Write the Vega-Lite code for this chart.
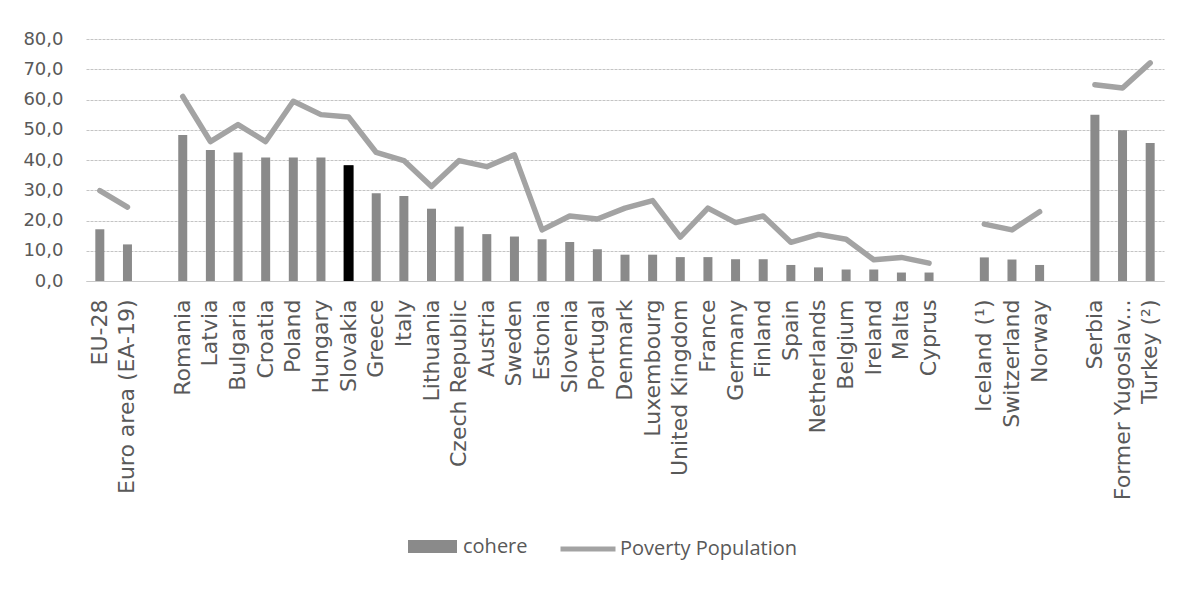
{
  "$schema": "https://vega.github.io/schema/vega-lite/v6.json",
  "width": 1078,
  "height": 242,
  "autosize": {"type": "none"},
  "padding": {"left": 86, "top": 39, "right": 25, "bottom": 311},
  "background": "white",
  "config": {
    "view": {"stroke": null},
    "axis": {"labelColor": "#595959", "labelFont": "DejaVu Sans"},
    "axisY": {
      "values": [0, 10, 20, 30, 40, 50, 60, 70, 80],
      "labelExpr": "replace(format(datum.value, '.1f'), '.', ',')",
      "labelFontSize": 18,
      "labelPadding": 23,
      "labelOverlap": false,
      "ticks": false,
      "domain": false,
      "gridColor": "#c4c4c4",
      "gridDash": [3, 1],
      "gridWidth": 1
    },
    "legend": {"labelColor": "#595959", "labelFont": "Open Sans", "labelFontSize": 20, "padding": 0, "labelLimit": 400}
  },
  "data": {
    "values": [
      {"country": "EU-28", "cohere": 17.1, "poverty": 29.9},
      {"country": "Euro area (EA-19)", "cohere": 12.1, "poverty": 24.4},
      {"country": "gap1", "cohere": null, "poverty": null},
      {"country": "Romania", "cohere": 48.3, "poverty": 61.0},
      {"country": "Latvia", "cohere": 43.3, "poverty": 46.1},
      {"country": "Bulgaria", "cohere": 42.5, "poverty": 51.7},
      {"country": "Croatia", "cohere": 40.8, "poverty": 46.1},
      {"country": "Poland", "cohere": 40.8, "poverty": 59.4},
      {"country": "Hungary", "cohere": 40.8, "poverty": 55.0},
      {"country": "Slovakia", "cohere": 38.3, "poverty": 54.2},
      {"country": "Greece", "cohere": 29.0, "poverty": 42.5},
      {"country": "Italy", "cohere": 28.1, "poverty": 39.8},
      {"country": "Lithuania", "cohere": 23.9, "poverty": 31.2},
      {"country": "Czech Republic", "cohere": 18.0, "poverty": 39.8},
      {"country": "Austria", "cohere": 15.5, "poverty": 37.8},
      {"country": "Sweden", "cohere": 14.7, "poverty": 41.7},
      {"country": "Estonia", "cohere": 13.8, "poverty": 16.9},
      {"country": "Slovenia", "cohere": 12.9, "poverty": 21.5},
      {"country": "Portugal", "cohere": 10.5, "poverty": 20.5},
      {"country": "Denmark", "cohere": 8.7, "poverty": 24.1},
      {"country": "Luxembourg", "cohere": 8.7, "poverty": 26.6},
      {"country": "United Kingdom", "cohere": 7.9, "poverty": 14.5},
      {"country": "France", "cohere": 7.9, "poverty": 24.1},
      {"country": "Germany", "cohere": 7.2, "poverty": 19.3},
      {"country": "Finland", "cohere": 7.2, "poverty": 21.5},
      {"country": "Spain", "cohere": 5.3, "poverty": 12.8},
      {"country": "Netherlands", "cohere": 4.5, "poverty": 15.4},
      {"country": "Belgium", "cohere": 3.8, "poverty": 13.8},
      {"country": "Ireland", "cohere": 3.8, "poverty": 7.0},
      {"country": "Malta", "cohere": 2.8, "poverty": 7.8},
      {"country": "Cyprus", "cohere": 2.8, "poverty": 5.9},
      {"country": "gap2", "cohere": null, "poverty": null},
      {"country": "Iceland (¹)", "cohere": 7.8, "poverty": 18.8},
      {"country": "Switzerland", "cohere": 7.1, "poverty": 16.9},
      {"country": "Norway", "cohere": 5.3, "poverty": 22.9},
      {"country": "gap3", "cohere": null, "poverty": null},
      {"country": "Serbia", "cohere": 55.0, "poverty": 64.9},
      {"country": "Former Yugoslav Republic of Macedonia", "cohere": 49.8, "poverty": 63.8},
      {"country": "Turkey (²)", "cohere": 45.6, "poverty": 72.1}
    ]
  },
  "encoding": {
    "x": {
      "field": "country",
      "type": "nominal",
      "sort": null,
      "scale": {
        "domain": ["EU-28", "Euro area (EA-19)", "gap1", "Romania", "Latvia", "Bulgaria", "Croatia", "Poland", "Hungary", "Slovakia", "Greece", "Italy", "Lithuania", "Czech Republic", "Austria", "Sweden", "Estonia", "Slovenia", "Portugal", "Denmark", "Luxembourg", "United Kingdom", "France", "Germany", "Finland", "Spain", "Netherlands", "Belgium", "Ireland", "Malta", "Cyprus", "gap2", "Iceland (¹)", "Switzerland", "Norway", "gap3", "Serbia", "Former Yugoslav Republic of Macedonia", "Turkey (²)"],
        "paddingInner": 0,
        "paddingOuter": 0
      },
      "axis": {
        "title": null,
        "labelAngle": -90,
        "labelAlign": "right",
        "labelBaseline": "middle",
        "labelFontSize": 22,
        "labelPadding": 18,
        "labelOverlap": false,
        "labelLimit": 400,
        "ticks": false,
        "domainColor": "#c8c8c8",
        "domainWidth": 1,
        "labelExpr": "datum.value == 'Former Yugoslav Republic of Macedonia' ? 'Former Yugoslav...' : (indexof(datum.value, 'gap') == 0 ? '' : datum.value)"
      }
    }
  },
  "layer": [
    {
      "mark": {"type": "bar", "size": 9},
      "encoding": {
        "y": {
          "field": "cohere",
          "type": "quantitative",
          "scale": {"domain": [0, 80]},
          "axis": {"title": null, "values": [0, 10, 20, 30, 40, 50, 60, 70, 80]}
        },
        "fill": {
          "datum": "cohere",
          "scale": {"range": ["#8a8a8a"]},
          "legend": {
            "title": null,
            "orient": "none",
            "legendX": 322,
            "legendY": 483,
            "symbolType": "M-1,-0.27L1,-0.27L1,0.27L-1,0.27Z",
            "symbolSize": 2401,
            "symbolStrokeWidth": 0,
            "labelOffset": 6
          }
        }
      }
    },
    {
      "transform": [{"filter": "datum.country == 'Slovakia'"}],
      "mark": {"type": "bar", "size": 10, "color": "#000000"},
      "encoding": {
        "y": {"field": "cohere", "type": "quantitative", "axis": {"title": null, "values": [0, 10, 20, 30, 40, 50, 60, 70, 80]}}
      }
    },
    {
      "mark": {"type": "line", "strokeWidth": 5.5, "strokeCap": "round", "strokeJoin": "round"},
      "encoding": {
        "y": {"field": "poverty", "type": "quantitative", "axis": {"title": null, "values": [0, 10, 20, 30, 40, 50, 60, 70, 80]}},
        "order": {"value": null},
        "stroke": {
          "datum": "Poverty Population",
          "scale": {"range": ["#a3a3a3"]},
          "legend": {
            "title": null,
            "orient": "none",
            "legendX": 472,
            "legendY": 480,
            "symbolType": "stroke",
            "symbolSize": 3025,
            "symbolStrokeWidth": 5,
            "labelOffset": 2
          }
        }
      }
    }
  ]
}
